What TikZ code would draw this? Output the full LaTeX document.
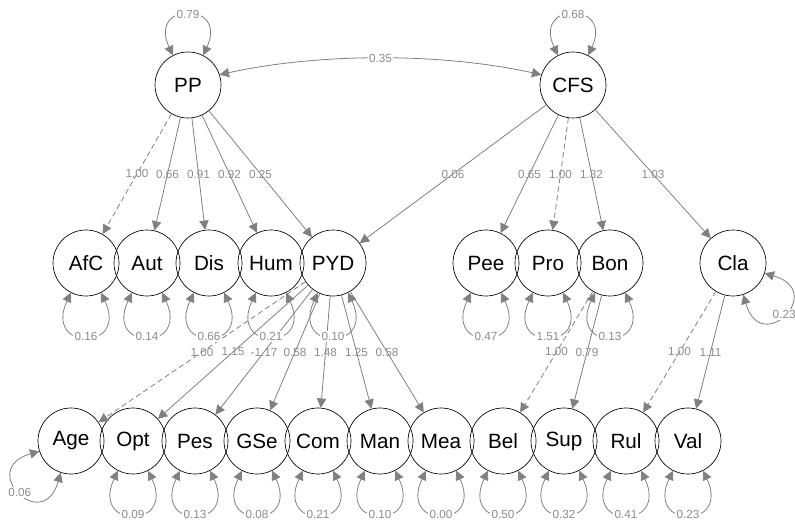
\documentclass[tikz,border=0pt]{standalone}
\usepackage{fontspec}
\setmainfont{Liberation Sans}
\usepackage{xcolor}
\usetikzlibrary{arrows.meta}

\definecolor{edgegray}{RGB}{128,128,128}
\definecolor{labgray}{RGB}{140,140,140}

\begin{document}
\begin{tikzpicture}[x=0.75pt,y=0.75pt,yscale=-1,xscale=1,
  var/.style={draw=black, line width=0.5pt, circle, minimum size=49.5pt, inner sep=0pt, font=\fontsize{15.5}{18}\selectfont},
  load/.style={draw=edgegray, line width=0.6pt, -{Triangle[length=7pt,width=7pt]}},
  fixed/.style={load, dash pattern=on 4pt off 2.5pt},
  resid/.style={draw=edgegray, line width=0.6pt, {Triangle[length=7pt,width=7pt]}-{Triangle[length=7pt,width=7pt]}},
  lbl/.style={text=labgray, font=\fontsize{8.8}{10}\selectfont, inner sep=1pt},
  lblbg/.style={lbl, fill=white}]
\useasboundingbox (0,0) rectangle (795,524);

% Latent nodes
\node[var] (PP) at (188,85) {PP};
\node[var] (CFS) at (573,85) {CFS};

% Middle row
\node[var] (AfC) at (86,263) {AfC};
\node[var] (Aut) at (147,263) {Aut};
\node[var] (Dis) at (209,263) {Dis};
\node[var] (Hum) at (271,263) {Hum};
\node[var] (PYD) at (333,263) {PYD};
\node[var] (Pee) at (486,263) {Pee};
\node[var] (Pro) at (548,263) {Pro};
\node[var] (Bon) at (610,263) {Bon};
\node[var] (Cla) at (733,263) {Cla};

% Bottom row
\node[var] (Age) at (71,441) {Age};
\node[var] (Opt) at (133,441) {Opt};
\node[var] (Pes) at (195,441) {Pes};
\node[var] (GSe) at (257,441) {GSe};
\node[var] (Com) at (318,441) {Com};
\node[var] (Man) at (380,441) {Man};
\node[var] (Mea) at (441,441) {Mea};
\node[var] (Bel) at (503,441) {Bel};
\node[var] (Sup) at (564,441) {Sup};
\node[var] (Rul) at (626,441) {Rul};
\node[var] (Val) at (688,441) {Val};

% Covariance
\draw[resid] (PP.18) .. controls +(100,-22) and +(-100,-22) .. node[lblbg, midway]{0.35} (CFS.162);

% Loadings PP
\draw[fixed] (PP) -- node[lbl, midway]{1,00} (AfC);
\draw[load] (PP) -- node[lbl, midway]{0.66} (Aut);
\draw[load] (PP) -- node[lbl, midway]{0.91} (Dis);
\draw[load] (PP) -- node[lbl, midway]{0.92} (Hum);
\draw[load] (PP) -- node[lbl, midway]{0.25} (PYD);
% Loadings CFS
\draw[load] (CFS) -- node[lbl, midway]{0.06} (PYD);
\draw[load] (CFS) -- node[lbl, midway]{0.65} (Pee);
\draw[fixed] (CFS) -- node[lbl, midway]{1.00} (Pro);
\draw[load] (CFS) -- node[lbl, midway]{1.32} (Bon);
\draw[load] (CFS) -- node[lbl, midway]{1.03} (Cla);
% Loadings PYD
\draw[fixed] (PYD) -- node[lbl, midway]{1.00} (Age);
\draw[load] (PYD) -- node[lbl, midway]{1.15} (Opt);
\draw[load] (PYD) -- node[lbl, midway]{-1.17} (Pes);
\draw[load] (PYD) -- node[lbl, midway]{0.58} (GSe);
\draw[load] (PYD) -- node[lbl, midway]{1.48} (Com);
\draw[load] (PYD) -- node[lbl, midway]{1.25} (Man);
\draw[load] (PYD) -- node[lbl, midway]{0.58} (Mea);
% Loadings Bon, Cla
\draw[fixed] (Bon) -- node[lbl, midway]{1,00} (Bel);
\draw[load] (Bon) -- node[lbl, midway]{0.79} (Sup);
\draw[fixed] (Cla) -- node[lbl, midway]{1,00} (Rul);
\draw[load] (Cla) -- node[lbl, midway]{1.11} (Val);

% Residuals top
\draw[resid] (PP.117) .. controls +(-115:60) and +(-65:60) .. node[lblbg, midway]{0.79} (PP.63);
\draw[resid] (CFS.117) .. controls +(-115:60) and +(-65:60) .. node[lblbg, midway]{0.68} (CFS.63);

% Residuals middle
\draw[resid] (AfC.243) .. controls +(115:65) and +(65:65) .. node[lblbg, midway]{0.16} (AfC.297);
\draw[resid] (Aut.243) .. controls +(115:65) and +(65:65) .. node[lblbg, midway]{0.14} (Aut.297);
\draw[resid] (Dis.243) .. controls +(115:65) and +(65:65) .. node[lblbg, midway]{0.66} (Dis.297);
\draw[resid] (Hum.243) .. controls +(115:65) and +(65:65) .. node[lblbg, midway]{0.21} (Hum.297);
\draw[resid] (PYD.243) .. controls +(115:65) and +(65:65) .. node[lblbg, midway]{0.10} (PYD.297);
\draw[resid] (Pee.243) .. controls +(115:65) and +(65:65) .. node[lblbg, midway]{0.47} (Pee.297);
\draw[resid] (Pro.243) .. controls +(115:65) and +(65:65) .. node[lblbg, midway]{1.51} (Pro.297);
\draw[resid] (Bon.243) .. controls +(115:65) and +(65:65) .. node[lblbg, midway]{0.13} (Bon.297);
\draw[resid] (Cla.342) .. controls +(16:65) and +(74:65) .. node[lblbg, midway]{0.23} (Cla.288);

% Residuals bottom
\draw[resid] (Age.198) .. controls +(164:65) and +(106:65) .. node[lblbg, midway]{0.06} (Age.252);
\draw[resid] (Opt.243) .. controls +(115:65) and +(65:65) .. node[lblbg, midway]{0.09} (Opt.297);
\draw[resid] (Pes.243) .. controls +(115:65) and +(65:65) .. node[lblbg, midway]{0.13} (Pes.297);
\draw[resid] (GSe.243) .. controls +(115:65) and +(65:65) .. node[lblbg, midway]{0.08} (GSe.297);
\draw[resid] (Com.243) .. controls +(115:65) and +(65:65) .. node[lblbg, midway]{0.21} (Com.297);
\draw[resid] (Man.243) .. controls +(115:65) and +(65:65) .. node[lblbg, midway]{0.10} (Man.297);
\draw[resid] (Mea.243) .. controls +(115:65) and +(65:65) .. node[lblbg, midway]{0.00} (Mea.297);
\draw[resid] (Bel.243) .. controls +(115:65) and +(65:65) .. node[lblbg, midway]{0.50} (Bel.297);
\draw[resid] (Sup.243) .. controls +(115:65) and +(65:65) .. node[lblbg, midway]{0.32} (Sup.297);
\draw[resid] (Rul.243) .. controls +(115:65) and +(65:65) .. node[lblbg, midway]{0.41} (Rul.297);
\draw[resid] (Val.243) .. controls +(115:65) and +(65:65) .. node[lblbg, midway]{0.23} (Val.297);

\end{tikzpicture}
\end{document}
